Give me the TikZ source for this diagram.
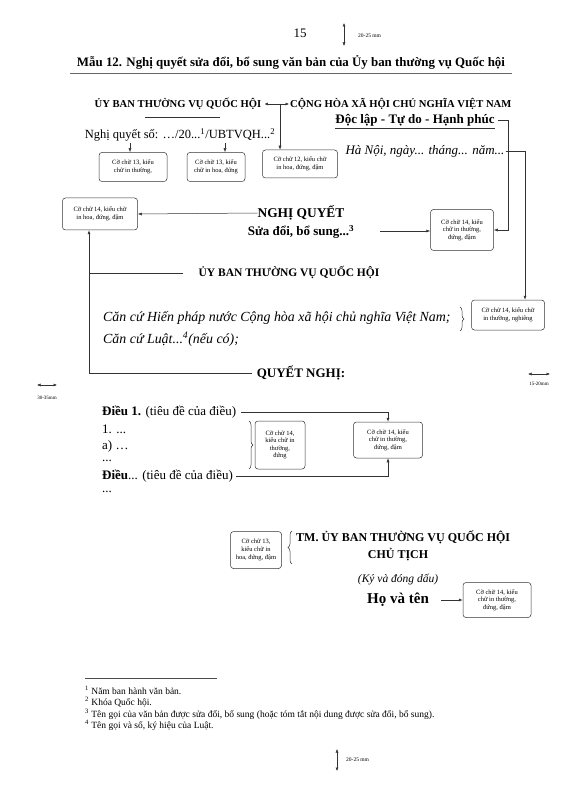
\documentclass[tikz,border=0pt]{standalone}
\usepackage{fontspec}
\setmainfont{Liberation Serif}
\usetikzlibrary{arrows.meta,decorations.pathreplacing,calc}
\begin{document}
\begin{tikzpicture}[x=1pt,y=-1pt,
  box/.style={draw=black!80, rounded corners=3pt, align=center, font=\fontsize{6.5}{7.6}\selectfont, inner sep=1pt, line width=0.5pt},
  conn/.style={draw=black!80, line width=0.5pt, -{Latex[length=4pt,width=3pt]}},
  dbl/.style={draw=black!80, line width=0.5pt, {Latex[length=3.5pt,width=3pt]}-{Latex[length=3.5pt,width=3pt]}},
  plain/.style={draw=black!80, line width=0.5pt},
  tx/.style={inner sep=0pt, font=\fontsize{13}{14}\selectfont},
  hb/.style={inner sep=0pt, font=\bfseries\fontsize{10.6}{12}\selectfont},
  hbb/.style={inner sep=0pt, font=\bfseries\fontsize{13}{14}\selectfont},
  it/.style={inner sep=0pt, font=\itshape\fontsize{13.9}{15}\selectfont},
  tiny/.style={inner sep=0pt, font=\fontsize{5.5}{6}\selectfont},
  fn/.style={inner sep=0pt, anchor=west, font=\fontsize{9.5}{10}\selectfont},
  brc/.style={draw=black!80, line width=0.5pt, decorate, decoration={brace, amplitude=4pt}}]
\useasboundingbox (0,0) rectangle (569,799);
\fill[white] (0,0) rectangle (569,799);

% top
\node[tx] (pg) at (300,33) {15};
\coordinate (ta) at (344,23); \coordinate (tb) at (344,46);
\draw[dbl] (ta) -- (tb);
\node[tiny, anchor=west] (tmm) at (358,36) {20-25 mm};

\node[inner sep=0pt, font=\bfseries\fontsize{12.9}{14}\selectfont] (title) at (291,62) {Mẫu 12. Nghị quyết sửa đổi, bổ sung văn bản của Ủy ban thường vụ Quốc hội};
\draw[line width=0.4pt, black!60] (70,73) -- (512,73);

% header
\node[hb] (ub) at (178,104) {ỦY BAN THƯỜNG VỤ QUỐC HỘI};
\draw[plain] (145,117) -- (220,117);
\node[hb, anchor=west] (ch) at (290,104) {CỘNG HÒA XÃ HỘI CHỦ NGHĨA VIỆT NAM};
\node[hbb] (dl) at (415,120) {Độc lập - Tự do - Hạnh phúc};
\draw[plain] (dl.south west) ++(0,2) -- ($(dl.south east)+(0,2)$);
\node[it, font=\itshape\fontsize{13}{14}\selectfont] (hn) at (425,151) {Hà Nội, ngày... tháng... năm...};
\node[tx, font=\fontsize{12.5}{14}\selectfont] (nq) at (180,135) {Nghị quyết số: …/20...\textsuperscript{1}/UBTVQH...\textsuperscript{2}};

\node[box, minimum width=68, minimum height=29] (b1) at (133,167) {Cỡ chữ 13, kiểu\\chữ in thường,};
\node[box, minimum width=58, minimum height=29] (b2) at (216,167) {Cỡ chữ 13, kiểu\\chữ in hoa, đứng};
\node[box, minimum width=75, minimum height=28] (b3) at (300,164) {Cỡ chữ 12, kiểu chữ\\in hoa, đứng, đậm};

\coordinate (a1) at (130,143); \draw[conn] (a1) -- (a1 |- b1.north);
\coordinate (a2) at (225,143); \draw[conn] (a2) -- (a2 |- b2.north);
\draw[dbl] ([xshift=3]ub.east) -- ([xshift=-1]ch.west);
\coordinate (dv) at (280,104); \draw[conn] (dv) -- (dv |- b3.north);

% right side
\node[box, minimum width=63, minimum height=41] (b4) at (462,230) {Cỡ chữ 14, kiểu\\chữ in thường,\\đứng, đậm};
\node[box, minimum width=73, minimum height=30] (b5) at (508,315) {Cỡ chữ 14, kiểu chữ\\in thường, nghiêng};
\draw[conn] ([xshift=3]dl.east) -- ++(10,0) |- (b4.east);
\draw[conn] ([xshift=1]hn.east) -| ([xshift=17]b5.north);

% NGHI QUYET
\node[hbb, font=\bfseries\fontsize{13.4}{15}\selectfont] (nqt) at (301,213) {NGHỊ QUYẾT};
\node[hbb] (sd) at (301,232) {Sửa đổi, bổ sung...\textsuperscript{3}};
\node[box, minimum width=75, minimum height=32] (b6) at (100,214) {Cỡ chữ 14, kiểu chữ\\in hoa, đứng, đậm};
\draw[conn] (nqt.west) -- (b6.east);
\coordinate (s1) at (380,231); \draw[conn] (s1) -- (s1 -| b4.west);

\node[hbb, font=\bfseries\fontsize{11.5}{13}\selectfont] (ub2) at (289,273) {ỦY BAN THƯỜNG VỤ QUỐC HỘI};
\node[hbb] (qn) at (301,373) {QUYẾT NGHỊ:};
\coordinate (lv) at ([xshift=-11]b6.south);
\coordinate (u2) at ([xshift=-15]ub2.west);
\draw[plain] (u2) -- (u2 -| lv);
\draw[conn] ([xshift=-5]qn.west) -| (lv);

\node[it, anchor=west] (cc1) at (103,318) {Căn cứ Hiến pháp nước Cộng hòa xã hội chủ nghĩa Việt Nam;};
\node[it, anchor=west] (cc2) at (103,339) {Căn cứ Luật...\textsuperscript{4}(nếu có);};
\draw[brc] (460,307) -- (460,331);

% margins
\draw[dbl] (37,385) -- (57,385);
\node[tiny, font=\fontsize{5}{6}\selectfont] (m1) at (47,398) {30-35mm};
\draw[dbl] (528,374) -- (550,374);
\node[tiny, font=\fontsize{5}{6}\selectfont] (m2) at (539,384) {15-20mm};

% Dieu
\node[tx, anchor=west] (d1) at (102,412) {\textbf{Điều 1.} (tiêu đề của điều)};
\node[tx, anchor=west] (l1) at (102,429) {1. ...};
\node[tx, anchor=west] (l2) at (102,446) {a) …};
\node[tx, anchor=west] (l3) at (102,461) {...};
\node[tx, anchor=west] (dd) at (102,476) {\textbf{Điều}... (tiêu đề của điều)};
\node[tx, anchor=west] (l4) at (102,492) {...};
\node[box, minimum width=50, minimum height=48] (b7) at (280,445) {Cỡ chữ 14,\\kiểu chữ in\\thường,\\đứng};
\node[box, minimum width=69, minimum height=36] (b8) at (388,440) {Cỡ chữ 14, kiểu\\chữ in thường,\\đứng, đậm};
\draw[brc] (249,421) -- (249,469);
\draw[conn] ([xshift=5]d1.east) -| (b8.north);
\draw[conn] ([xshift=3]dd.east) -| (b8.south);

% signature
\node[box, minimum width=51, minimum height=37] (b9) at (256,550) {Cỡ chữ 13,\\kiểu chữ in\\hoa, đứng, đậm};
\draw[brc] (292,564) -- (292,531);
\node[hbb, font=\bfseries\fontsize{12}{14}\selectfont, anchor=west] (tm) at (296,537) {TM. ỦY BAN THƯỜNG VỤ QUỐC HỘI};
\node[hbb, font=\bfseries\fontsize{12}{14}\selectfont] (ct) at (398,555) {CHỦ TỊCH};
\node[it, font=\itshape\fontsize{11.5}{13}\selectfont] (ky) at (398,580) {(Ký và đóng dấu)};
\node[inner sep=0pt, font=\bfseries\fontsize{15}{17}\selectfont] (hvt) at (398,600) {Họ và tên};
\node[box, minimum width=68, minimum height=35] (b10) at (497,600) {Cỡ chữ 14, kiểu\\chữ in thường,\\đứng, đậm};
\draw[conn] ([xshift=12]hvt.east) -- (b10.west);

% footnotes
\draw[line width=0.5pt, black!70] (85,678) -- (217,678);
\node[fn] (f1) at (85,690) {\textsuperscript{1} Năm ban hành văn bản.};
\node[fn] (f2) at (85,702) {\textsuperscript{2} Khóa Quốc hội.};
\node[fn] (f3) at (85,714) {\textsuperscript{3} Tên gọi của văn bản được sửa đổi, bổ sung (hoặc tóm tắt nội dung được sửa đổi, bổ sung).};
\node[fn] (f4) at (85,725) {\textsuperscript{4} Tên gọi và số, ký hiệu của Luật.};

\coordinate (ba) at (337,749); \coordinate (bb) at (337,771);
\draw[dbl] (ba) -- (bb);
\node[tiny, anchor=west] (bmm) at (346,760) {20-25 mm};
\end{tikzpicture}
\end{document}
